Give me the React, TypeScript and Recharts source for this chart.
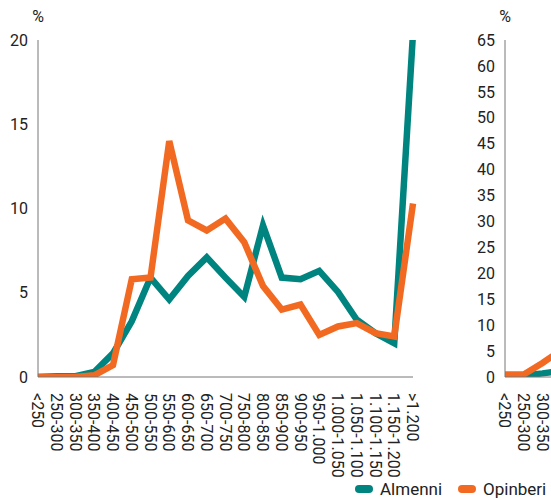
import React from 'react';
import { LineChart, Line, XAxis, YAxis } from 'recharts';

const categories = ['<250', '250-300', '300-350', '350-400', '400-450', '450-500', '500-550', '550-600', '600-650', '650-700', '700-750', '750-800', '800-850', '850-900', '900-950', '950-1.000', '1.000-1.050', '1.050-1.100', '1.100-1.150', '1.150-1.200', '>1.200'];

// Left panel (%)
const almenni = [0, 0.05, 0.05, 0.3, 1.4, 3.3, 5.9, 4.6, 6.0, 7.1, 5.9, 4.75, 9.0, 5.9, 5.8, 6.3, 5.05, 3.4, 2.6, 2.0, 20.4];
const opinberi = [0, 0, 0, 0.1, 0.7, 5.8, 5.9, 14.0, 9.3, 8.7, 9.4, 8.0, 5.4, 4.0, 4.3, 2.5, 3.0, 3.2, 2.6, 2.4, 10.3];

// Right panel (%), only the first values are visible in the picture
const almenniRight: (number | null)[] = [0.3, 0.3, 0.7, 1.2, null, null, null, null, null, null, null, null, null, null, null, null, null, null, null, null, null];
const opinberiRight: (number | null)[] = [0.5, 0.5, 2.7, 5.2, null, null, null, null, null, null, null, null, null, null, null, null, null, null, null, null, null];
const rightVisibleLabels = 3;

const leftTicks = [0, 5, 10, 15, 20];
const rightTicks = [0, 5, 10, 15, 20, 25, 30, 35, 40, 45, 50, 55, 60, 65];

const seriesNames = ['Almenni', 'Opinberi'];
const TEAL = '#00847f';
const ORANGE = '#f26a22';
const FONT = 'Roboto, sans-serif';

const leftData = categories.map((c, i) => ({ cat: c, a: almenni[i], o: opinberi[i] }));
const rightData = categories.map((c, i) => ({ cat: c, a: almenniRight[i], o: opinberiRight[i] }));

const CatTick = (props: any) => {
  const { x, y, payload, index, maxLabels } = props;
  if (maxLabels !== undefined && index >= maxLabels) return null;
  return (
    <g transform={`translate(${x},${y})`}>
      <text transform="rotate(90)" x={8} y={0} dy="0.36em" textAnchor="start" fontSize={16} fill="#222" fontFamily={FONT}>
        {payload.value}
      </text>
    </g>
  );
};

const PctLabel = (props: any) => {
  const vb = props.viewBox || {};
  return (
    <text x={vb.x + vb.width} y={vb.y - 24} textAnchor="middle" dy="0.36em" fontSize={16} fill="#222" fontFamily={FONT}>
      %
    </text>
  );
};

const Panel = ({ data, ticks, max, maxLabels }: { data: any[]; ticks: number[]; max: number; maxLabels?: number }) => (
  <LineChart width={440} height={500} data={data} margin={{ top: 40, right: 27, bottom: 0, left: 0 }}>
    <XAxis
      dataKey="cat"
      interval={0}
      tickLine={false}
      axisLine={{ stroke: '#777' }}
      height={123}
      tick={(p: any) => <CatTick {...p} maxLabels={maxLabels} />}
    />
    <YAxis
      width={38}
      domain={[0, max]}
      ticks={ticks}
      allowDataOverflow
      tickLine={false}
      axisLine={{ stroke: '#777' }}
      tickMargin={4}
      tick={{ fontSize: 16, fill: '#222', fontFamily: FONT }}
      label={<PctLabel />}
    />
    <Line dataKey="a" name={seriesNames[0]} stroke={TEAL} strokeWidth={6.5} dot={false} isAnimationActive={false} strokeLinejoin="miter" />
    <Line dataKey="o" name={seriesNames[1]} stroke={ORANGE} strokeWidth={6.5} dot={false} isAnimationActive={false} strokeLinejoin="miter" />
  </LineChart>
);

const LegendItem = ({ color, label, left }: { color: string; label: string; left: number }) => (
  <div style={{ position: 'absolute', left, top: 479, display: 'flex', alignItems: 'center', fontFamily: FONT, fontSize: 17, color: '#222', whiteSpace: 'nowrap' }}>
    <span style={{ display: 'inline-block', width: 18, height: 8, borderRadius: 4, background: color, marginRight: 7 }} />
    <span>{label}</span>
  </div>
);

export default function App() {
  return (
    <div style={{ position: 'absolute', left: 0, top: 0, width: 551, height: 500, overflow: 'hidden', background: '#fff' }}>
      <div style={{ position: 'absolute', left: 0, top: 0 }}>
        <Panel data={leftData} ticks={leftTicks} max={20} />
      </div>
      <div style={{ position: 'absolute', left: 467, top: 0 }}>
        <Panel data={rightData} ticks={rightTicks} max={65} maxLabels={rightVisibleLabels} />
      </div>
      <LegendItem color={TEAL} label={seriesNames[0]} left={355} />
      <LegendItem color={ORANGE} label={seriesNames[1]} left={458} />
    </div>
  );
}
